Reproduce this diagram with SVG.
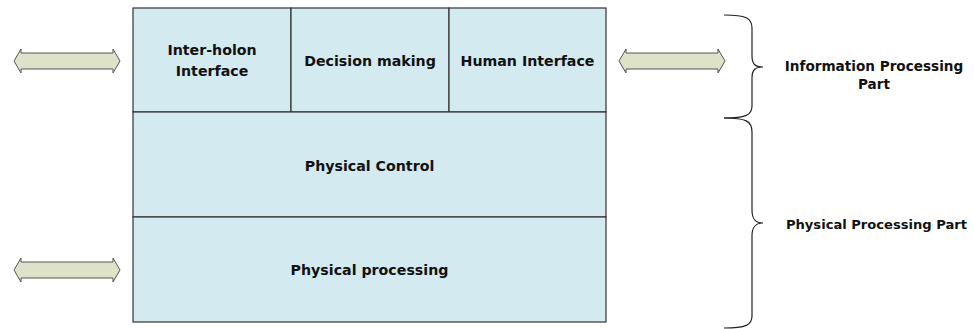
<svg xmlns="http://www.w3.org/2000/svg" width="974" height="329" viewBox="0 0 974 329">
<style>
.cell{fill:#d3eaf0;stroke:#333;stroke-width:1.2}
.t{font-family:"DejaVu Sans",Verdana,sans-serif;font-weight:bold;font-size:14.2px;fill:#111;text-anchor:middle}
.s{font-size:13.6px}
.arr{fill:#dde2c8;stroke:#555;stroke-width:1}
.brace{fill:none;stroke:#222;stroke-width:1.2}
</style>
<defs>
<polygon id="dbl" points="0,0 7,-12 7,-8 99,-8 99,-12 106,0 99,12 99,8 7,8 7,12"/>
</defs>
<rect width="974" height="329" fill="#fff"/>
<g id="inter-holon">
<rect class="cell" x="133" y="8" width="158" height="104"/>
<text class="t" x="212" y="55">Inter-holon</text>
<text class="t" x="212" y="76">Interface</text>
</g>
<g id="decision">
<rect class="cell" x="291" y="8" width="158" height="104"/>
<text class="t" x="370" y="66">Decision making</text>
</g>
<g id="human">
<rect class="cell" x="449" y="8" width="157" height="104"/>
<text class="t" x="527.5" y="66">Human Interface</text>
</g>
<g id="physical-control">
<rect class="cell" x="133" y="112" width="473" height="105"/>
<text class="t" x="369.5" y="171">Physical Control</text>
</g>
<g id="physical-processing">
<rect class="cell" x="133" y="217" width="473" height="105"/>
<text class="t" x="369.5" y="275">Physical processing</text>
</g>
<g id="connectors">
<use href="#dbl" class="arr" x="14" y="61"/>
<use href="#dbl" class="arr" x="619" y="61"/>
<use href="#dbl" class="arr" x="14" y="270"/>
</g>
<g id="info-brace">
<path class="brace" d="M724,15 C746,15 752,18 752,28 L752,56 C752,64 755,67 763,67 C755,67 752,70 752,78 L752,106 C752,115 746,118 724,118"/>
<text class="t s" x="874" y="71">Information Processing</text>
<text class="t s" x="874" y="89">Part</text>
</g>
<g id="phys-brace">
<path class="brace" d="M724,118 C746,118 752,121 752,132 L752,210 C752,219 755,223 763,223 C755,223 752,227 752,236 L752,316 C752,325 746,328 724,328"/>
<text class="t" x="876.5" y="229" style="font-size:13.1px">Physical Processing Part</text>
</g>
</svg>
